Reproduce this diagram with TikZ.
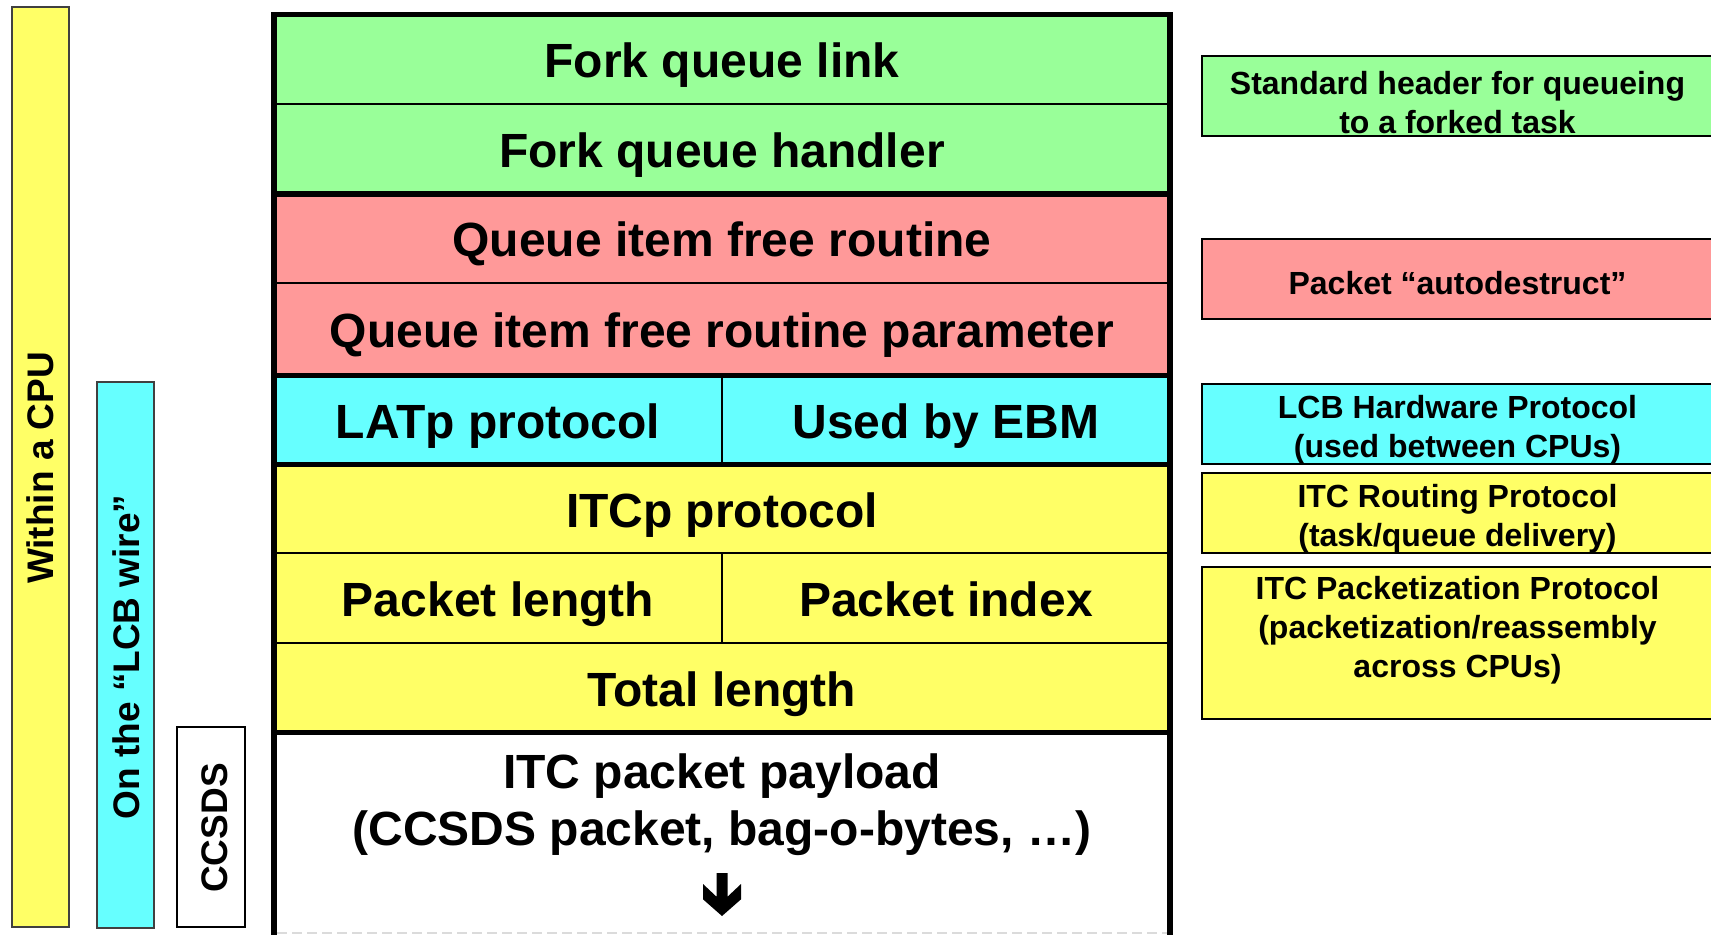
\documentclass[tikz,border=0pt]{standalone}
\usepackage{fontspec}
\setmainfont{Liberation Sans}

\definecolor{cpuyellow}{HTML}{FFFF66}
\definecolor{wirecyan}{HTML}{66FFFF}
\definecolor{fqgreen}{HTML}{99FF99}
\definecolor{freered}{HTML}{FF9999}

\tikzset{
  cell/.style={inner sep=0pt, outer sep=0pt, text height=18.5pt, text depth=0pt,
               font=\fontsize{24}{28.5}\selectfont\bfseries},
  fullcell/.style={cell, minimum width=448pt},
  halfcell/.style={cell, minimum width=224pt},
  sidebox/.style={inner sep=0pt, outer sep=0pt, minimum width=255.5pt,
                  draw=black, line width=0.75pt},
  sidetext/.style={inner sep=0pt, align=center,
                   font=\fontsize{16}{19.5}\selectfont\bfseries},
  layerbar/.style={inner sep=0pt, outer sep=0pt, draw=black!75, line width=0.6pt},
  vlabel/.style={inner sep=0pt, rotate=90, anchor=base,
                 font=\fontsize{18.5}{22}\selectfont\bfseries},
  thinrule/.style={line width=1pt},
  thickrule/.style={line width=2.75pt},
}

\begin{document}
\begin{tikzpicture}[x=0.5pt,y=-0.5pt]
\useasboundingbox (0,0) rectangle (1711,935);
\clip (0,0) rectangle (1711,935);

% scope bars on the left
\node[layerbar, fill=cpuyellow, minimum width=28.5pt, minimum height=460pt] (cpu) at (40.5,467) {};
\node[vlabel] (cpulbl) at (53,468) {Within a CPU};
\node[layerbar, fill=wirecyan, minimum width=28.5pt, minimum height=273pt] (wire) at (125.5,655) {};
\node[vlabel] (wirelbl) at (139,657) {On the “LCB wire”};
\node[layerbar, draw=black, line width=0.75pt, fill=white, minimum width=34pt, minimum height=100pt] (ccsds) at (211,827) {};
\node[vlabel] (ccsdslbl) at (227,828) {CCSDS};

% packet layout
\node[fullcell, fill=fqgreen, minimum height=44.75pt] (fql) at (722,59.25) {Fork queue link};
\node[fullcell, fill=fqgreen, minimum height=45pt] (fqh) at (722,149) {Fork queue handler};
\node[fullcell, fill=freered, minimum height=44.5pt] (qfr) at (722,238.5) {Queue item free routine};
\node[fullcell, fill=freered, minimum height=46.25pt] (qfp) at (722,329.25) {Queue item free routine parameter};
\node[halfcell, fill=wirecyan, minimum height=44.5pt] (latp) at (498,420) {LATp protocol};
\node[halfcell, fill=wirecyan, minimum height=44.5pt] (ebm) at (946,420) {Used by EBM};
\node[fullcell, fill=cpuyellow, minimum height=44.25pt] (itcp) at (722,508.75) {ITCp protocol};
\node[halfcell, fill=cpuyellow, minimum height=45pt] (plen) at (498,598) {Packet length};
\node[halfcell, fill=cpuyellow, minimum height=45pt] (pidx) at (946,598) {Packet index};
\node[fullcell, fill=cpuyellow, minimum height=44.75pt] (tlen) at (722,687.75) {Total length};
\node[inner sep=0pt, align=center, font=\fontsize{24}{28.5}\selectfont\bfseries] (payload) at (722,805)
  {ITC packet payload\\(CCSDS packet, bag-o-bytes, …)};

% field separators
\draw[thinrule] (fql.south west) -- (fql.south east);
\draw[thinrule] (qfr.south west) -- (qfr.south east);
\draw[thinrule] (itcp.south west) -- (itcp.south east);
\draw[thinrule] (plen.south west) -- (pidx.south east);
\draw[thinrule] (latp.north east) -- (latp.south east);
\draw[thinrule] (plen.north east) -- (plen.south east);
\draw[thickrule] (fqh.south west) -- (fqh.south east);
\draw[thickrule] (qfp.south west) -- (qfp.south east);
\draw[thickrule] (latp.south west) -- (ebm.south east);
\draw[thickrule] (tlen.south west) -- (tlen.south east);

% outer frame, open at the bottom
\coordinate (frameBL) at (274,950);
\coordinate (frameBR) at (1170,950);
\draw[thickrule, line join=miter] (frameBL) -- (fql.north west) -- (fql.north east) -- (frameBR);

% faint tear line where the payload continues
\coordinate (tearL) at (277,933);
\coordinate (tearR) at (1167,933);
\draw[black!14, line width=1pt, dash pattern=on 5pt off 2.5pt] (tearL) -- (tearR);

% down arrow: payload continues
\fill[shift={(722,873)}] (-5.5,0) -- (5.5,0) -- (5.5,23.7) -- (19,11) -- (19,26.3)
  -- (0,43) -- (-19,26.3) -- (-19,11) -- (-5.5,23.7) -- cycle;

% protocol descriptions on the right
\node[sidebox, fill=fqgreen, minimum height=40pt] (hdrbox) at (1457.5,96) {};
\node[sidetext] (hdrtxt) at (1457.5,103) {Standard header for queueing\\to a forked task};
\node[sidebox, fill=freered, minimum height=40pt] (autobox) at (1457.5,279) {};
\node[sidetext] (autotxt) at (1457.5,283.3) {Packet “autodestruct”};
\node[sidebox, fill=wirecyan, minimum height=40pt] (lcbbox) at (1457.5,424) {};
\node[sidetext] (lcbtxt) at (1457.5,429.3) {LCB Hardware Protocol\\(used between CPUs)};
\node[sidebox, fill=cpuyellow, minimum height=40pt] (routebox) at (1457.5,513) {};
\node[sidetext] (routetxt) at (1457.5,519.2) {ITC Routing Protocol\\(task/queue delivery)};
\node[sidebox, fill=cpuyellow, minimum height=76pt] (pktbox) at (1457.5,643) {};
\node[sidetext] (pkttxt) at (1457.5,630) {ITC Packetization Protocol\\(packetization/reassembly\\across CPUs)};
\end{tikzpicture}
\end{document}
